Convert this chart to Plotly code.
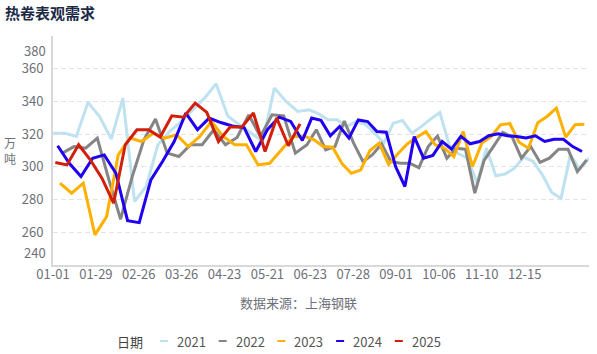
import plotly.graph_objects as go
import pandas as pd

# ---------------- data ----------------
years = ["2021", "2022", "2023", "2024", "2025"]
first_dates = ["2021-01-01", "2022-01-07", "2023-01-06", "2024-01-05", "2025-01-03"]

v2021 = [320.6, 320.6, 318.6, 339.4, 330.8, 317.0, 342.0, 278.8, 288.0, 313.5,
         321.6, 327.7, 334.9, 342.0, 350.8, 331.0, 325.7, 320.6, 315.5, 348.2,
         340.0, 333.9, 334.9, 332.4, 328.8, 328.8, 324.7, 327.7, 326.0, 320.6,
         314.5, 326.7, 328.3, 320.6, 324.6, 329.2, 333.2, 313.5, 308.0, 305.3,
         290.0, 311.4, 294.6, 295.6, 299.2, 306.0, 303.3, 295.1, 284.3, 280.8,
         307.3, 298.6, 305.3]
v2022 = [308.4, 312.4, 311.4, 317.6, 292.0, 268.0, 294.0, 316.5, 329.2, 308.4,
         306.3, 313.5, 313.5, 322.7, 313.5, 318.0, 331.8, 318.6, 331.8, 331.2,
         308.4, 313.5, 322.7, 310.4, 312.4, 328.0, 314.5, 303.3, 307.3, 314.0,
         303.3, 302.2, 302.2, 299.5, 312.4, 318.8, 305.3, 311.4, 310.8, 283.9,
         304.0, 312.4, 321.0, 318.3, 305.3, 312.4, 302.7, 305.3, 310.8, 310.8,
         297.1, 304.3]
v2023 = [290.0, 283.9, 290.0, 258.4, 269.6, 307.3, 317.6, 315.5, 320.6, 317.6,
         319.6, 312.4, 318.6, 327.8, 318.6, 313.5, 313.5, 301.2, 302.2, 310.4,
         318.6, 318.6, 316.5, 312.4, 312.0, 302.0, 296.1, 298.0, 310.0, 314.5,
         301.5, 308.0, 314.0, 318.0, 321.6, 313.5, 311.4, 306.3, 321.6, 300.2,
         314.5, 318.5, 325.7, 326.5, 315.0, 311.4, 327.0, 330.8, 335.9, 318.2,
         325.7, 326.1]
v2024 = [312.9, 302.2, 294.1, 305.3, 307.3, 296.1, 267.1, 265.9, 292.0, 303.3,
         315.5, 332.9, 322.7, 329.8, 327.1, 325.0, 324.0, 309.4, 322.7, 330.4,
         327.8, 316.1, 329.8, 328.4, 319.0, 324.7, 317.6, 328.7, 327.7, 321.6,
         321.2, 300.2, 288.0, 318.5, 305.3, 307.0, 315.5, 310.8, 318.6, 314.1,
         315.5, 319.0, 320.2, 319.0, 318.6, 317.6, 319.0, 315.5, 316.9, 316.9,
         312.4, 309.4]
v2025 = [302.7, 301.2, 313.5, 304.3, 293.1, 277.8, 313.5, 322.7, 322.7, 318.2,
         331.2, 330.4, 339.0, 333.3, 315.5, 324.3, 324.3, 332.9, 309.4, 329.8,
         312.9, 326.3]

tick_labels = ["01-01", "01-29", "02-26", "03-26", "04-23", "05-21",
               "06-23", "07-28", "09-01", "10-06", "11-10", "12-15"]
y_grid = [240, 260, 280, 300, 320, 340, 360, 380]
y_labels = ["", "260", "280", "300", "320", "340", "360", ""]

colors = ["#bfe2f0", "#858585", "#ffb000", "#2000f0", "#d21f0c"]
values = [v2021, v2022, v2023, v2024, v2025]

# ---------------- category axis (union of weekly dates, MM-DD) ----------------
series_dates = [
    list(pd.date_range(start, periods=len(vals), freq="7D").strftime("%m-%d"))
    for start, vals in zip(first_dates, values)
]
categories = sorted(set().union(*[set(d) for d in series_dates]))
cat_pos = {c: i for i, c in enumerate(categories)}

fig = go.Figure()
for name, vals, dts, col in zip(years, values, series_dates, colors):
    fig.add_trace(go.Scatter(
        x=[cat_pos[d] for d in dts], y=vals, mode="lines", name=name,
        line=dict(color=col, width=3), showlegend=False,
        text=dts, hovertemplate="%{text}: %{y}<extra>" + name + "</extra>",
    ))

FONT = "Noto Sans CJK SC, Microsoft YaHei, sans-serif"
W, H = 597, 354
ML, MR, MT, MB = 53, 8, 36, 89
pw, ph = W - ML - MR, H - MT - MB
tick_step = 18.4


def px_x(px):
    return (px - ML) / pw


def px_y(py):
    return (H - MB - py) / ph


fig.update_layout(
    width=W, height=H, autosize=False,
    margin=dict(l=ML, r=MR, t=MT, b=MB),
    paper_bgcolor="white", plot_bgcolor="white",
    font=dict(family=FONT, size=13, color="#6e7079"),
    title=dict(text="<b>热卷表观需求</b>", x=5 / W, xref="container", xanchor="left",
               y=1 - 13.5 / H, yref="container", yanchor="middle",
               font=dict(family=FONT, size=15, color="#1c2a48")),
    xaxis=dict(range=[0, len(categories) - 1], showgrid=False, zeroline=False,
               showline=True, linecolor="#d9d9d9", linewidth=2,
               tickvals=[i * tick_step for i in range(len(tick_labels))],
               ticktext=tick_labels, ticks="", ticklabelstandoff=-4,
               tickfont=dict(size=13, color="#6e7079")),
    yaxis=dict(range=[240, 380], tickvals=y_grid, ticktext=y_labels,
               showgrid=True, gridcolor="#e3e3e3", griddash="5px,3px", gridwidth=1,
               zeroline=False, showline=True, linecolor="#d9d9d9", linewidth=2,
               ticks="", ticklabelstandoff=5,
               tickfont=dict(size=13, color="#6e7079")),
)

ann = []
# edge labels of the value axis (drawn inward like the original)
ann.append(dict(text="380", x=0, xref="paper", y=380, yref="y", yshift=-14,
                xanchor="right", yanchor="middle", xshift=-5, showarrow=False,
                font=dict(size=13, color="#6e7079")))
ann.append(dict(text="240", x=0, xref="paper", y=240, yref="y", yshift=13,
                xanchor="right", yanchor="middle", xshift=-5, showarrow=False,
                font=dict(size=13, color="#6e7079")))
# axis name, written vertically one character per row
for ch, py in zip("万吨", [142, 158]):
    ann.append(dict(text=ch, x=px_x(10), xref="paper", y=px_y(py), yref="paper",
                    xanchor="center", yanchor="middle", showarrow=False,
                    borderpad=0, font=dict(size=12, color="#6e7079")))
ann.append(dict(text="数据来源：上海钢联", x=px_x(W / 2), xref="paper", y=px_y(302), yref="paper",
                xanchor="center", yanchor="middle", showarrow=False,
                font=dict(size=13, color="#6e7079")))

# legend (title + swatches), built from the series list
leg_y = 341
ann.append(dict(text="日期", x=px_x(115), xref="paper", y=px_y(leg_y), yref="paper",
                xanchor="left", yanchor="middle", showarrow=False,
                font=dict(size=13, color="#444444")))
shapes = []
for i, (name, col) in enumerate(zip(years, colors)):
    sx = 160 + 58.7 * i
    shapes.append(dict(type="line", xref="paper", yref="paper",
                       x0=px_x(sx), x1=px_x(sx + 8), y0=px_y(leg_y), y1=px_y(leg_y),
                       line=dict(color=col, width=2)))
    ann.append(dict(text=name, x=px_x(sx + 15), xref="paper", y=px_y(leg_y), yref="paper",
                    xanchor="left", yanchor="middle", showarrow=False,
                    font=dict(size=13, color="#555555")))

fig.update_layout(annotations=ann, shapes=shapes)
fig.write_html("out.html")
